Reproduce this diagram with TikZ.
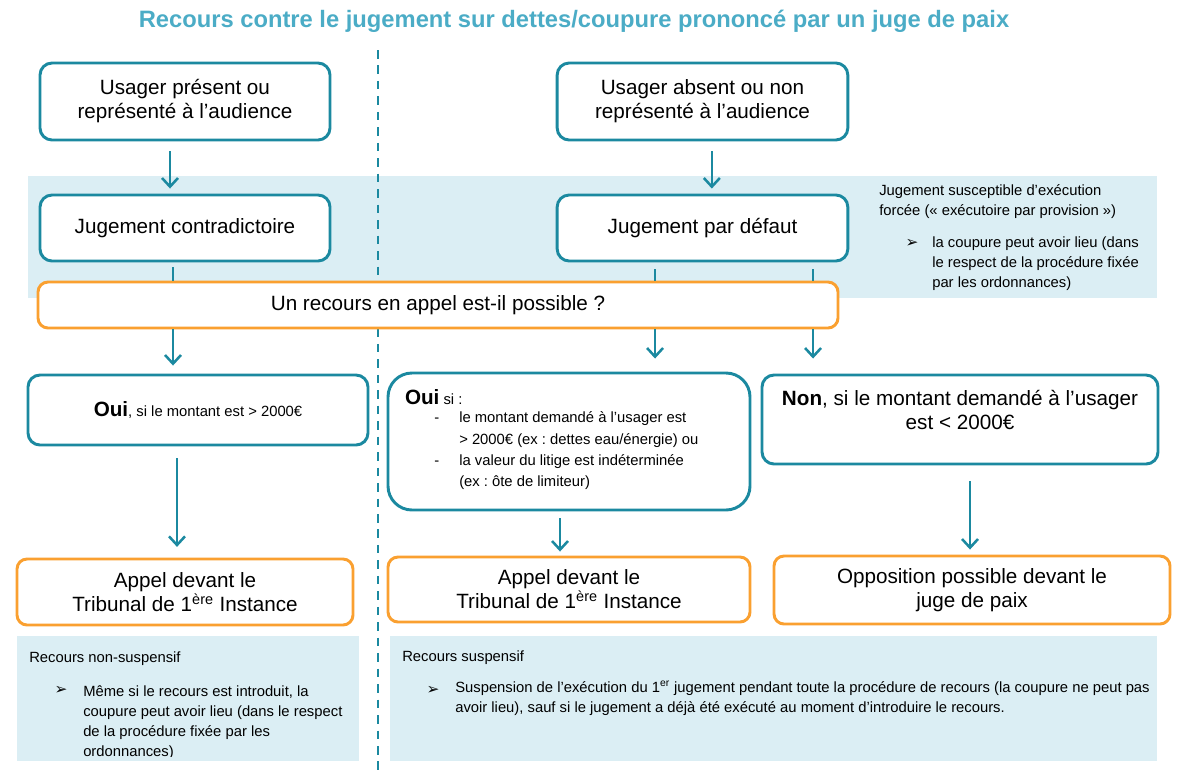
\documentclass[tikz,border=0pt]{standalone}
\usepackage{fontspec}
\setmainfont{Liberation Sans}
\newfontfamily\symfont{DejaVu Sans}
\usetikzlibrary{arrows.meta,positioning}

\definecolor{tealc}{RGB}{27,137,160}
\definecolor{titlec}{RGB}{75,172,198}
\definecolor{orangec}{RGB}{250,160,48}
\definecolor{panelc}{RGB}{219,238,244}

\newcommand{\bigtxt}{\fontsize{15.5}{18}\selectfont}
\newcommand{\smalltxt}{\fontsize{11.1}{15}\selectfont\frenchspacing\spaceskip=0pt\relax\xspaceskip=0pt\relax}
\newcommand{\pointe}{{\symfont\fontsize{11.5}{11.5}\selectfont ➢}}

\tikzset{
  tealbox/.style={draw=tealc, line width=2.2pt, rounded corners=9pt, fill=white,
                  align=center, font=\bigtxt},
  orangebox/.style={draw=orangec, line width=2.2pt, rounded corners=7.5pt, fill=white,
                  align=center, font=\bigtxt},
  arr/.style={draw=tealc, line width=1.9pt, -{Straight Barb[length=6.5pt,width=12pt]}},
  link/.style={draw=tealc, line width=1.9pt},
  note/.style={font=\smalltxt, align=left, anchor=north west, inner sep=0pt},
}

\begin{document}
\begin{tikzpicture}[x=0.75pt,y=-0.75pt]
  \useasboundingbox (0,0) rectangle (1184,776);

% title
  \node[font=\fontsize{17.8}{20}\selectfont\bfseries, text=titlec] (titre) at (574,21)
    {Recours contre le jugement sur dettes/coupure prononcé par un juge de paix};

% shaded panels
  \fill[panelc] (28,176) rectangle (1157,298);
  \fill[panelc] (17,636) rectangle (359,761);
  \fill[panelc] (390,636) rectangle (1157,761);

% dashed separator
  \draw[tealc, line width=1.5pt, dash pattern=on 6.4pt off 5.2pt] (378,50) -- (378,776);

% top row
  \node[tealbox, minimum width=217.5pt, minimum height=57.75pt] (A) at (185,101.5)
    {Usager présent ou\\représenté à l’audience};
  \node[tealbox, minimum width=218pt, minimum height=57.75pt] (B) at (702.5,101.5)
    {Usager absent ou non\\représenté à l’audience};

% judgements
  \node[tealbox, minimum width=217.5pt, minimum height=49.5pt] (C) at (185,228)
    {Jugement contradictoire};
  \node[tealbox, minimum width=218pt, minimum height=49.5pt] (D) at (702.5,228)
    {Jugement par défaut};

  \node[note] (exec) at (879,184)
    {Jugement susceptible d’exécution\\forcée (« exécutoire par provision »)};
  \node (execpt) at (912,243) {\pointe};
  \node[note] (exectxt) at (932,236)
    {la coupure peut avoir lieu (dans\\le respect de la procédure fixée\\par les ordonnances)};

% question
  \node[orangebox, minimum width=600pt, minimum height=34.5pt] (Q) at (438,305)
    {Un recours en appel est-il possible ?};

% answers
  \node[tealbox, minimum width=255pt, minimum height=52.5pt] (E) at (198,410)
    {{\bfseries Oui}{\smalltxt, si le montant est > 2000€}};
  \node[tealbox, rounded corners=18pt, minimum width=271.5pt, minimum height=102.75pt,
        text width=246pt, align=left] (F) at (569,441.5)
    {{\bfseries Oui}{\smalltxt\ si :}\\[1pt]
     {\smalltxt\renewcommand{\arraystretch}{1.07}%
     \begin{tabular}{@{\hspace{22pt}}l@{\hspace{15pt}}l@{}}
       - & le montant demandé à l’usager est\\
         & > 2000€ (ex : dettes eau/énergie) ou\\
       - & la valeur du litige est indéterminée\\
         & (ex : ôte de limiteur)
     \end{tabular}}};
  \node[tealbox, minimum width=297pt, minimum height=66.75pt] (G) at (960,419.5)
    {{\bfseries Non}, si le montant demandé à l’usager\\est < 2000€\\[-4pt] \mbox{}};

% outcomes
  \node[orangebox, minimum width=252pt, minimum height=49.5pt] (H) at (185,592)
    {Appel devant le\\Tribunal de 1\textsuperscript{ère} Instance};
  \node[orangebox, minimum width=271.5pt, minimum height=48.75pt] (I) at (569,589.5)
    {Appel devant le\\Tribunal de 1\textsuperscript{ère} Instance};
  \node[orangebox, minimum width=297pt, minimum height=51pt] (J) at (972,590)
    {Opposition possible devant le\\juge de paix};

% bottom notes
  \node[note] (nonsusp) at (29,651) {Recours non-suspensif};
  \node (nonsusppt) at (61,690) {\pointe};
  \begin{scope}
    \clip (17,636) rectangle (359,756);
    \node[note] (nonsusptxt) at (83,685)
      {Même si le recours est introduit, la\\coupure peut avoir lieu (dans le respect\\de la procédure fixée par les\\ordonnances)};
  \end{scope}
  \node[note] (susp) at (402,650) {Recours suspensif};
  \node (susppt) at (433,690) {\pointe};
  \node[note] (susptxt) at (455,681)
    {Suspension de l’exécution du 1\textsuperscript{er} jugement pendant toute la procédure de recours (la coupure ne peut pas\\avoir lieu), sauf si le jugement a déjà été exécuté au moment d’introduire le recours.};

% connectors
  \coordinate (c1) at ([xshift=-9pt]C.south);
  \coordinate (d1) at ([xshift=-35.6pt]D.south);
  \coordinate (d2) at ([xshift=82.9pt]D.south);
  \coordinate (e1) at ([xshift=-15.75pt]E.south);
  \coordinate (f1) at ([xshift=-6.75pt]F.south);
  \coordinate (g1) at ([xshift=7.5pt]G.south);

  \draw[arr, shorten <=7.5pt, shorten >=3.75pt] ([xshift=-11.25pt]A.south) -- ([xshift=-11.25pt]C.north);
  \draw[arr, shorten <=7.5pt, shorten >=3.75pt] ([xshift=7pt]B.south) -- ([xshift=7pt]D.north);

  \draw[link, shorten <=3.75pt] (c1) -- (c1 |- Q.north);
  \draw[link, shorten <=5pt] (d1) -- (d1 |- Q.north);
  \draw[link, shorten <=5pt] (d2) -- (d2 |- Q.north);

  \draw[arr, shorten >=6pt] (c1 |- Q.south) -- (c1 |- E.north);
  \draw[arr, shorten >=9.75pt] (d1 |- Q.south) -- (d1 |- F.north);
  \draw[arr, shorten >=11.25pt] (d2 |- Q.south) -- (d2 |- G.north);

  \draw[arr, shorten <=9pt, shorten >=8pt] (e1) -- (e1 |- H.north);
  \draw[arr, shorten <=5.25pt, shorten >=3pt] (f1) -- (f1 |- I.north);
  \draw[arr, shorten <=12pt, shorten >=3.75pt] (g1) -- (g1 |- J.north);

\end{tikzpicture}
\end{document}
